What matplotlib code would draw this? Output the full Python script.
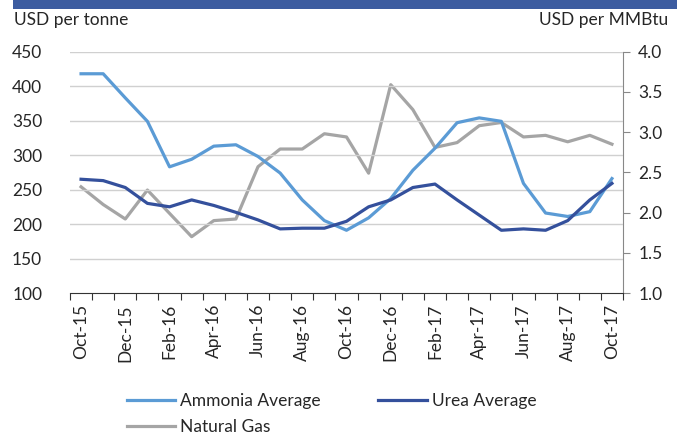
import matplotlib
matplotlib.use("Agg")
import matplotlib.pyplot as plt
from matplotlib.patches import Rectangle

months = ["Oct-15", "Nov-15", "Dec-15", "Jan-16", "Feb-16", "Mar-16", "Apr-16", "May-16",
          "Jun-16", "Jul-16", "Aug-16", "Sep-16", "Oct-16", "Nov-16", "Dec-16", "Jan-17",
          "Feb-17", "Mar-17", "Apr-17", "May-17", "Jun-17", "Jul-17", "Aug-17", "Sep-17", "Oct-17"]
ammonia = [418, 418, 383, 349, 283, 294, 313, 315, 298, 274, 235, 205, 191,
           209, 237, 278, 310, 347, 354, 349, 259, 216, 211, 218, 266]
urea = [265, 263, 253, 230, 225, 235, 227, 217, 206, 193, 194, 194, 204,
        225, 235, 253, 258, 235, 213, 191, 193, 191, 205, 235, 259]
natural_gas = [2.32, 2.10, 1.92, 2.28, 1.99, 1.70, 1.90, 1.92, 2.57, 2.79, 2.79, 2.98, 2.94,
               2.49, 3.59, 3.28, 2.81, 2.87, 3.08, 3.12, 2.94, 2.96, 2.88, 2.96, 2.85]
left_ticks = [100, 150, 200, 250, 300, 350, 400, 450]
right_ticks = [1.0, 1.5, 2.0, 2.5, 3.0, 3.5, 4.0]

FONT = ["Lato", "DejaVu Sans"]
plt.rcParams["font.family"] = FONT
TXT = "#262626"
FS = 12.5

fig = plt.figure(figsize=(6.77, 4.36), dpi=100)
L, R = 70 / 677, 623 / 677
B, T = 1 - 293 / 436, 1 - 51.7 / 436
ax = fig.add_axes([L, B, R - L, T - B])
ax2 = ax.twinx()

x = list(range(len(months)))
c_amm, c_urea, c_gas = "#5b9bd5", "#34509c", "#a5a5a5"
l1, = ax.plot(x, ammonia, color=c_amm, lw=2.3, label="Ammonia Average", zorder=3)
l2, = ax.plot(x, urea, color=c_urea, lw=2.3, label="Urea Average", zorder=3)
l3, = ax2.plot(x, natural_gas, color=c_gas, lw=2.3, label="Natural Gas", zorder=2)

ax.set_xlim(-0.5, len(months) - 0.5)
ax.set_ylim(100, 450)
ax2.set_ylim(1.0, 4.0)
ax.set_yticks(left_ticks)
ax.set_yticklabels([str(v) for v in left_ticks], fontsize=FS, color=TXT)
ax2.set_yticks(right_ticks)
ax2.set_yticklabels([f"{v:.1f}" for v in right_ticks], fontsize=FS, color=TXT)
ax.tick_params(axis="y", length=0, pad=20)
ax2.tick_params(axis="y", length=5, width=0.8, color="#888888", pad=6)
for v in left_ticks[1:]:
    ax.axhline(v, color="#d0d0d0", lw=1.0, zorder=1)

# x ticks at category boundaries, labels at every other category
ax.set_xticks([i - 0.5 for i in range(len(months) + 1)])
ax.set_xticklabels([])
ax.tick_params(axis="x", which="major", length=5, width=0.8, color="#333333", direction="out")
ax.set_xticks(x[::2], minor=True)
ax.set_xticklabels(months[::2], minor=True, rotation=90, fontsize=FS, color=TXT)
ax.tick_params(axis="x", which="minor", length=0, pad=8)

for a in (ax, ax2):
    a.spines["top"].set_visible(False)
    a.spines["left"].set_visible(False)
ax.spines["right"].set_visible(False)
ax2.spines["bottom"].set_visible(False)
ax2.spines["right"].set_color("#888888")
ax2.spines["right"].set_linewidth(0.8)
ax.spines["bottom"].set_color("#333333")
ax.spines["bottom"].set_linewidth(0.8)
ax.set_zorder(ax2.get_zorder() + 1)
ax.patch.set_visible(False)

fig.text(14 / 677, 1 - 20 / 436, "USD per tonne", fontsize=FS, color=TXT, va="center", ha="left")
fig.text(668 / 677, 1 - 20 / 436, "USD per MMBtu", fontsize=FS, color=TXT, va="center", ha="right")

fig.patches.append(Rectangle((13 / 677, 1 - 9 / 436), 1, 9 / 436, transform=fig.transFigure,
                             facecolor="#3c5ca0", edgecolor="none"))

fig.legend(handles=[l1, l3, l2], loc="upper left", bbox_to_anchor=(118 / 677, 1 - 384 / 436),
           ncol=2, frameon=False, fontsize=FS, handlelength=2.8, handletextpad=0.3,
           columnspacing=3.3, borderpad=0, labelspacing=0.6, labelcolor=TXT)

fig.savefig("out.png", dpi=100)
